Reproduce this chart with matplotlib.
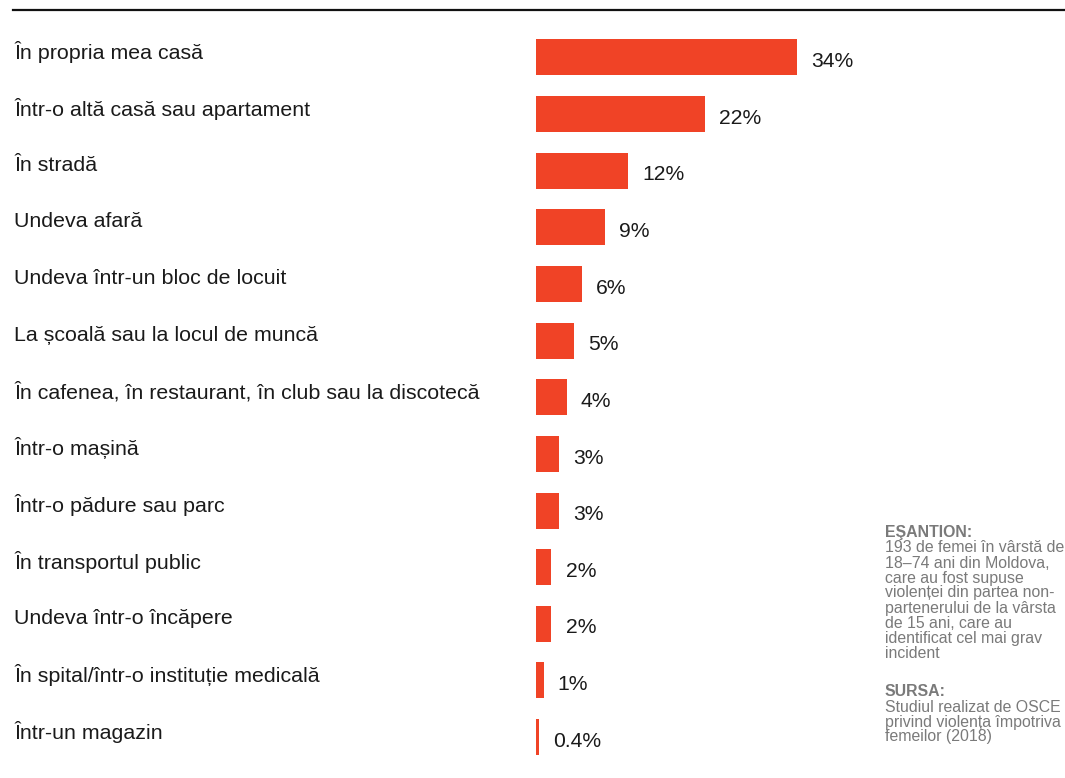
import matplotlib
matplotlib.use("Agg")
import matplotlib.pyplot as plt
from matplotlib.transforms import blended_transform_factory
from matplotlib.lines import Line2D

plt.rcParams['font.family'] = ['Liberation Sans', 'DejaVu Sans']

categories = [
    "În propria mea casă",
    "Într-o altă casă sau apartament",
    "În stradă",
    "Undeva afară",
    "Undeva într-un bloc de locuit",
    "La școală sau la locul de muncă",
    "În cafenea, în restaurant, în club sau la discotecă",
    "Într-o mașină",
    "Într-o pădure sau parc",
    "În transportul public",
    "Undeva într-o încăpere",
    "În spital/într-o instituție medicală",
    "Într-un magazin",
]
values = [34, 22, 12, 9, 6, 5, 4, 3, 3, 2, 2, 1, 0.4]
value_labels = ["34%", "22%", "12%", "9%", "6%", "5%", "4%", "3%", "3%", "2%", "2%", "1%", "0.4%"]

sample_title = "EŞANTION:"
sample_lines = [
    "193 de femei în vârstă de",
    "18–74 ani din Moldova,",
    "care au fost supuse",
    "violenței din partea non-",
    "partenerului de la vârsta",
    "de 15 ani, care au",
    "identificat cel mai grav",
    "incident",
]
source_title = "SURSA:"
source_lines = [
    "Studiul realizat de OSCE",
    "privind violența împotriva",
    "femeilor (2018)",
]

W, H = 1065, 778
fig = plt.figure(figsize=(W / 100, H / 100), dpi=100)
fig.patch.set_facecolor("white")

bar_color = "#F04326"
text_color = "#1a1a1a"
note_color = "#7a7a7a"

px_per_unit = 7.68
ax_left = 536
n = len(categories)
first_c, step = 57.5, 56.63
top_px = first_c - step / 2
bot_px = first_c + (n - 1) * step + step / 2
ax = fig.add_axes([ax_left / W, 1 - bot_px / H, (W - ax_left) / W, (bot_px - top_px) / H])
ax.set_xlim(0, (W - ax_left) / px_per_unit)
ax.set_ylim(n - 0.5, -0.5)
ax.axis("off")

ypos = list(range(n))
ax.barh(ypos, values, height=36 / step, color=bar_color, edgecolor="none")

tr = blended_transform_factory(fig.transFigure, ax.transData)
for i, (cat, v, lab) in enumerate(zip(categories, values, value_labels)):
    ax.text(14 / W, i - 5.5 / step, cat, transform=tr, ha="left", va="center",
            fontsize=15.4, color=text_color)
    ax.annotate(lab, xy=(v, i), xytext=(10.2, -3), textcoords="offset points",
                ha="left", va="center", fontsize=15.2, color=text_color)

fig.add_artist(Line2D([13 / W, 1.0], [1 - 9.5 / H, 1 - 9.5 / H], transform=fig.transFigure,
                      color="#111111", linewidth=1.6))


def note_block(title, lines, y_start, spacing=15.0):
    fig.text(885 / W, 1 - y_start / H, title, ha="left", va="center",
             fontsize=11.4, color=note_color, fontweight="bold")
    for k, line in enumerate(lines):
        fig.text(885 / W, 1 - (y_start + (k + 1) * spacing) / H, line, ha="left",
                 va="center", fontsize=11.4, color=note_color)


note_block(sample_title, sample_lines, 533)
note_block(source_title, source_lines, 692)

fig.savefig("out.png", dpi=100, facecolor="white")
